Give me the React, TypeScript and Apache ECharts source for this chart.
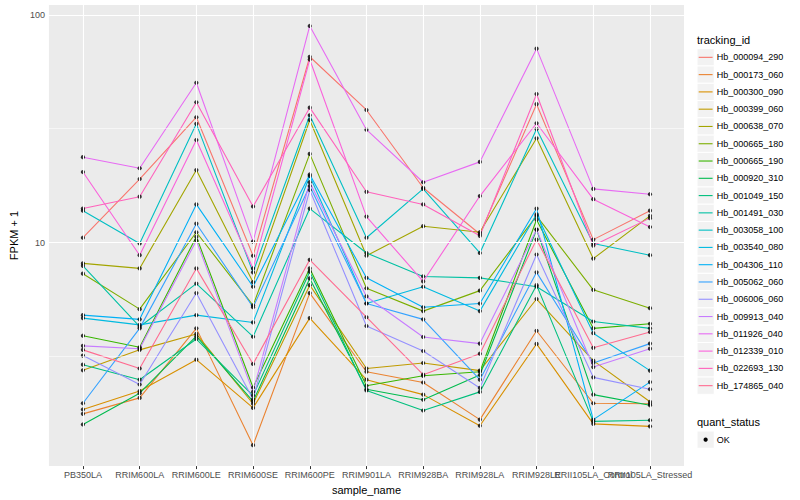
import React, { useEffect, useRef } from "react";
import * as echarts from "echarts";

const categories = [
  "PB350LA", "RRIM600LA", "RRIM600LE", "RRIM600SE", "RRIM600PE", "RRIM901LA",
  "RRIM928BA", "RRIM928LA", "RRIM928LE", "RRII105LA_Control", "RRII105LA_Stressed",
];

const trackingIds = [
  "Hb_000094_290", "Hb_000173_060", "Hb_000300_090", "Hb_000399_060", "Hb_000638_070",
  "Hb_000665_180", "Hb_000665_190", "Hb_000920_310", "Hb_001049_150", "Hb_001491_030",
  "Hb_003058_100", "Hb_003540_080", "Hb_004306_110", "Hb_005062_060", "Hb_006006_060",
  "Hb_009913_040", "Hb_011926_040", "Hb_012339_010", "Hb_022693_130", "Hb_174865_040",
];

const hueColors = [
  "#F8766D", "#EA8331", "#D89000", "#C09B00", "#A3A500", "#7CAE00", "#39B600", "#00BB4E",
  "#00BF7D", "#00C1A3", "#00BFC4", "#00BAE0", "#00B0F6", "#35A2FF", "#9590FF", "#C77CFF",
  "#E76BF3", "#FA62DB", "#FF62BC", "#FF6C91",
];

// FPKM + 1 per sample, in category order
const hb_000094_290 = [10.5, 19.0, 35.5, 8.75, 65.4, 38.2, 17.4, 10.9, 40.5, 10.3, 13.8];
const hb_000173_060 = [1.77, 2.08, 4.2, 1.29, 6.0, 2.71, 2.43, 1.67, 4.1, 1.97, 1.96];
const hb_000300_090 = [1.85, 2.23, 3.06, 1.88, 4.66, 2.5, 2.15, 1.57, 3.59, 1.6, 1.56];
const hb_000399_060 = [2.75, 3.38, 3.97, 1.96, 6.5, 2.8, 2.96, 2.74, 5.65, 3.03, 2.0];
const hb_000638_070 = [8.1, 7.7, 20.8, 6.7, 34.5, 8.75, 11.8, 11.1, 28.7, 8.5, 13.1];
const hb_000665_180 = [7.3, 5.1, 11.1, 5.3, 24.5, 6.3, 5.0, 6.15, 13.1, 6.2, 5.15];
const hb_000665_190 = [3.9, 3.47, 10.6, 2.31, 7.7, 2.35, 2.6, 2.71, 12.6, 4.2, 4.4];
const hb_000920_310 = [1.59, 2.18, 3.88, 2.01, 6.96, 2.27, 2.04, 2.62, 11.4, 2.15, 1.93];
const hb_001049_150 = [2.91, 2.5, 3.77, 2.13, 7.45, 2.24, 1.83, 2.21, 6.5, 1.64, 1.66];
const hb_001491_030 = [7.9, 4.27, 6.6, 3.86, 14.1, 9.0, 7.1, 7.0, 6.4, 4.5, 4.2];
const hb_003058_100 = [13.8, 9.9, 33.2, 7.4, 36.2, 10.5, 17.2, 9.0, 31.5, 9.9, 8.8];
const hb_003540_080 = [4.66, 4.35, 4.8, 4.46, 19.6, 5.4, 6.4, 5.0, 13.3, 4.0, 2.74];
const hb_004306_110 = [4.8, 4.6, 14.7, 6.4, 19.9, 7.0, 5.2, 5.4, 14.1, 1.67, 2.44];
const hb_005062_060 = [1.97, 4.2, 12.1, 5.2, 17.7, 5.4, 4.6, 2.5, 7.4, 2.96, 3.6];
const hb_006006_060 = [3.19, 2.38, 6.0, 2.05, 17.0, 4.3, 3.34, 2.3, 8.86, 2.56, 2.27];
const hb_009913_040 = [3.52, 3.42, 10.2, 2.21, 18.4, 5.8, 3.85, 3.6, 11.4, 2.84, 3.42];
const hb_011926_040 = [23.7, 21.2, 50.3, 10.1, 89.3, 31.3, 18.4, 22.6, 71.0, 17.2, 16.3];
const hb_012339_010 = [20.4, 8.8, 28.2, 7.7, 63.6, 13.0, 6.75, 16.0, 33.4, 15.5, 11.7];
const hb_022693_130 = [14.1, 15.9, 41.3, 14.4, 39.1, 16.7, 14.7, 10.7, 44.9, 9.7, 12.8];
const hb_174865_040 = [3.38, 2.8, 7.7, 2.93, 8.4, 4.7, 2.63, 3.25, 10.3, 3.45, 4.05];

const seriesValues = [
  hb_000094_290, hb_000173_060, hb_000300_090, hb_000399_060, hb_000638_070,
  hb_000665_180, hb_000665_190, hb_000920_310, hb_001049_150, hb_001491_030,
  hb_003058_100, hb_003540_080, hb_004306_110, hb_005062_060, hb_006006_060,
  hb_009913_040, hb_011926_040, hb_012339_010, hb_022693_130, hb_174865_040,
];

const yBreaks = [10, 100];
const yMinorBreaks = [Math.sqrt(10), Math.sqrt(1000)];
const quantStatus = ["OK"];

const FONT = "'Liberation Sans', Arial, Helvetica, sans-serif";

export default function App() {
  const ref = useRef<HTMLDivElement>(null);

  useEffect(() => {
    if (!ref.current) return;
    const chart = echarts.init(ref.current, null, { renderer: "svg" });

    const allLogs = seriesValues.flat().map((v) => Math.log10(v));
    const lo = Math.min(...allLogs);
    const hi = Math.max(...allLogs);
    const pad = (hi - lo) * 0.05;
    const yMin = lo - pad;
    const yMax = hi + pad;
    const xMin = -0.6;
    const xMax = categories.length - 1 + 0.6;

    const lineSeries = seriesValues.map((vals, si) => ({
      name: trackingIds[si],
      type: "line",
      data: vals.map((v, i) => [i, Math.log10(v)]),
      showSymbol: false,
      symbol: "none",
      lineStyle: { color: hueColors[si], width: 1.1 },
      itemStyle: { color: hueColors[si] },
      z: 2,
      silent: true,
    }));

    const points: number[][] = [];
    seriesValues.forEach((vals) => vals.forEach((v, i) => points.push([i, Math.log10(v)])));

    const gridSeries = {
      type: "line",
      data: [],
      z: 1,
      silent: true,
      markLine: {
        silent: true,
        symbol: ["none", "none"],
        label: { show: false },
        animation: false,
        data: [
          ...yMinorBreaks.map((b) => ({ yAxis: Math.log10(b), lineStyle: { color: "#FFFFFF", width: 0.55, type: "solid" } })),
          ...yBreaks.map((b) => ({ yAxis: Math.log10(b), lineStyle: { color: "#FFFFFF", width: 1.1, type: "solid" } })),
          ...categories.map((_, i) => ({ xAxis: i, lineStyle: { color: "#FFFFFF", width: 1.1, type: "solid" } })),
        ],
      },
    };

    // legend graphics
    const legendX = 697;
    const keySize = 17.28;
    const firstKeyTop = 48.7;
    const legendChildren: any[] = [];
    legendChildren.push({
      type: "text",
      x: legendX,
      y: 40,
      style: { text: "tracking_id", fontSize: 11, fontFamily: FONT, fill: "#000", verticalAlign: "middle", align: "left" },
    });
    trackingIds.forEach((id, i) => {
      const top = firstKeyTop + i * keySize;
      legendChildren.push({
        type: "rect",
        shape: { x: legendX, y: top, width: keySize, height: keySize },
        style: { fill: "#F2F2F2", stroke: "#FFFFFF", lineWidth: 1 },
      });
      legendChildren.push({
        type: "line",
        shape: { x1: legendX + 1.7, y1: top + keySize / 2, x2: legendX + keySize - 1.7, y2: top + keySize / 2 },
        style: { stroke: hueColors[i], lineWidth: 1.1 },
      });
      legendChildren.push({
        type: "text",
        x: legendX + keySize + 2.5,
        y: top + keySize / 2,
        style: { text: id, fontSize: 9, fontFamily: FONT, fill: "#000", verticalAlign: "middle", align: "left" },
      });
    });
    legendChildren.push({
      type: "text",
      x: legendX,
      y: 422,
      style: { text: "quant_status", fontSize: 11, fontFamily: FONT, fill: "#000", verticalAlign: "middle", align: "left" },
    });
    quantStatus.forEach((s, i) => {
      const top = 431 + i * keySize;
      legendChildren.push({
        type: "rect",
        shape: { x: legendX, y: top, width: keySize, height: keySize },
        style: { fill: "#F2F2F2", stroke: "#FFFFFF", lineWidth: 1 },
      });
      legendChildren.push({
        type: "circle",
        shape: { cx: legendX + keySize / 2, cy: top + keySize / 2, r: 2.1 },
        style: { fill: "#000" },
      });
      legendChildren.push({
        type: "text",
        x: legendX + keySize + 2.5,
        y: top + keySize / 2,
        style: { text: s, fontSize: 9, fontFamily: FONT, fill: "#000", verticalAlign: "middle", align: "left" },
      });
    });

    const allIdx = categories.map((_, i) => i);
    // split labels over two identical axes so that the overlapping neighbours both stay visible
    const evenIdx = allIdx.filter((i) => i % 2 === 0);
    const oddIdx = allIdx.filter((i) => i % 2 === 1);

    const labelStyle = {
      formatter: (v: number) => categories[Math.round(v)] ?? "",
      color: "#4D4D4D",
      fontSize: 9,
      fontFamily: FONT,
      margin: 4,
      hideOverlap: false,
      showMinLabel: true,
      showMaxLabel: true,
    };

    const option: any = {
      animation: false,
      backgroundColor: "#FFFFFF",
      textStyle: { fontFamily: FONT },
      grid: {
        left: 40,
        right: 116,
        top: 5,
        bottom: 32,
        show: true,
        backgroundColor: "#EBEBEB",
        borderWidth: 0,
        containLabel: false,
      },
      xAxis: [
        {
          type: "value",
          position: "bottom",
          min: xMin,
          max: xMax,
          splitLine: { show: false },
          axisLine: { show: false },
          axisTick: {
            show: true,
            length: 3,
            customValues: allIdx,
            lineStyle: { color: "#333333", width: 1 },
          },
          axisLabel: { ...labelStyle, customValues: evenIdx },
          name: "sample_name",
          nameLocation: "middle",
          nameGap: 12,
          nameTextStyle: { fontSize: 11, color: "#000", fontFamily: FONT, verticalAlign: "top" },
        },
        {
          type: "value",
          position: "bottom",
          offset: 0,
          min: xMin,
          max: xMax,
          splitLine: { show: false },
          axisLine: { show: false },
          axisTick: { show: false },
          axisLabel: { ...labelStyle, customValues: oddIdx },
        },
      ],
      yAxis: {
        type: "value",
        min: yMin,
        max: yMax,
        splitLine: { show: false },
        axisLine: { show: false },
        axisTick: {
          show: true,
          length: 3,
          customValues: yBreaks.map((b) => Math.log10(b)),
          lineStyle: { color: "#333333", width: 1 },
        },
        axisLabel: {
          customValues: yBreaks.map((b) => Math.log10(b)),
          formatter: (v: number) => String(Math.round(Math.pow(10, v))),
          color: "#4D4D4D",
          fontSize: 9,
          fontFamily: FONT,
          margin: 4,
        },
        name: "FPKM + 1",
        nameLocation: "middle",
        nameGap: 27,
        nameRotate: 90,
        nameTextStyle: { fontSize: 11, color: "#000", fontFamily: FONT },
      },
      graphic: [{ type: "group", children: legendChildren }],
      series: [
        gridSeries,
        ...lineSeries,
        {
          type: "scatter",
          data: points,
          symbol: "circle",
          symbolSize: 4.2,
          itemStyle: { color: "#000000" },
          z: 3,
          silent: true,
        },
      ],
    };

    chart.setOption(option);
    return () => chart.dispose();
  }, []);

  return (
    <div
      ref={ref}
      style={{ position: "fixed", left: 0, top: 0, width: 800, height: 500, background: "#FFFFFF" }}
    />
  );
}
